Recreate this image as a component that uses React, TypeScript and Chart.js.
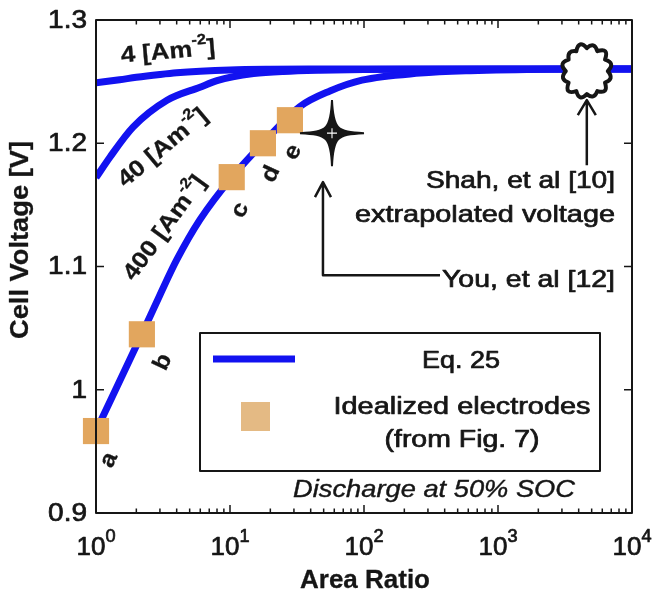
import React, { useEffect, useRef } from 'react';
import { Chart, registerables } from 'chart.js';

Chart.register(...registerables);

// ---- data ----
const areaRatio4 = [1, 1.5, 2, 3, 4, 6, 10, 20, 50, 100, 1000, 10000];
const voltage4 = [1.249, 1.2515, 1.2535, 1.2558, 1.2572, 1.2585, 1.2595, 1.26, 1.2602, 1.2603, 1.2603, 1.2603];

const areaRatio40 = [1, 1.27, 1.89, 3.39, 5.97, 8, 10.5, 15, 25, 47, 100, 262, 1000, 10000];
const voltage40 = [1.1721, 1.1887, 1.2131, 1.2349, 1.2455, 1.2508, 1.254, 1.2565, 1.2582, 1.2592, 1.2598, 1.2601, 1.2603, 1.2603];

const areaRatio400 = [1, 2.2, 3.0, 4.0, 5.97, 10.35, 17.6, 33.3, 55.7, 96.6, 262, 620, 2450, 10000];
const voltage400 = [0.9665, 1.0452, 1.0769, 1.1053, 1.138, 1.1725, 1.2001, 1.2298, 1.2424, 1.2512, 1.2569, 1.2589, 1.2601, 1.2603];

const electrodeLabels = ['a', 'b', 'c', 'd', 'e'];
const electrodeRatio = [1, 2.2, 10.3, 17.6, 28];
const electrodeVoltage = [0.9665, 1.045, 1.1725, 1.2, 1.2187];

const xTickValues = [1, 10, 100, 1000, 10000];
const xTickExponents = ['0', '1', '2', '3', '4'];
const yTickValues = [0.9, 1.0, 1.1, 1.2, 1.3];
const yTickLabels = ['0.9', '1', '1.1', '1.2', '1.3'];

// annotation anchors (data coordinates)
const shahPoint = { x: 4600, y: 1.2585 };
const shahArrowBase = 1.1822;
const youPoint = { x: 57.7, y: 1.2082 };
const youArrow = { x: 49.4, tipY: 1.1685, cornerY: 1.093, endX: 369 };
// label anchors (data coordinates)
const electrodeLabelPos = [
  { x: 1.25, y: 0.943 },
  { x: 3.16, y: 1.0225 },
  { x: 11.9, y: 1.1457 },
  { x: 20.2, y: 1.175 },
  { x: 29.5, y: 1.1928 },
];
const curveLabelPos = [
  { x: 3.45, y: 1.2739, text: '4', rot: -5 },
  { x: 3.16, y: 1.196, text: '40', rot: -40 },
  { x: 3.27, y: 1.1311, text: '400', rot: -54 },
];

const BLUE = 'rgb(18,18,240)';
const SQUARE = 'rgb(226,166,94)';
const SQUARE_LEGEND = 'rgb(228,186,132)';
const INK = '#161616';
const FONT = '"Liberation Sans", Arial, Helvetica, sans-serif';

type Part = { t: string; sup?: boolean };
type TextOpt = {
  size: number;
  bold?: boolean;
  italic?: boolean;
  align?: 'left' | 'center' | 'right';
  rot?: number;
  sx?: number;
  width?: number;
  baseline?: CanvasTextBaseline;
  supScale?: number;
  supRaise?: number;
  weight?: number;
};

function fontOf(size: number, bold?: boolean, italic?: boolean) {
  return `${italic ? 'italic ' : ''}${bold ? 'bold ' : ''}${size}px ${FONT}`;
}

function drawParts(ctx: CanvasRenderingContext2D, parts: Part[], x: number, y: number, o: TextOpt) {
  const supSize = o.size * (o.supScale ?? 0.64);
  const widths = parts.map((p) => {
    ctx.font = fontOf(p.sup ? supSize : o.size, o.bold, o.italic);
    return ctx.measureText(p.t).width;
  });
  const total = widths.reduce((s, w) => s + w, 0);
  const sx = o.width ? o.width / total : o.sx ?? 1.17;
  ctx.save();
  ctx.translate(x, y);
  if (o.rot) ctx.rotate((o.rot * Math.PI) / 180);
  ctx.scale(sx, 1);
  ctx.textBaseline = o.baseline ?? 'alphabetic';
  ctx.textAlign = 'left';
  ctx.fillStyle = INK;
  ctx.strokeStyle = INK;
  ctx.lineJoin = 'round';
  const w = o.weight ?? (o.bold ? 0.3 : 0.7);
  ctx.lineWidth = w;
  let cx = o.align === 'center' ? -total / 2 : o.align === 'right' ? -total : 0;
  parts.forEach((p, i) => {
    ctx.font = fontOf(p.sup ? supSize : o.size, o.bold, o.italic);
    const yy = p.sup ? -o.size * (o.supRaise ?? 0.45) : 0;
    ctx.fillText(p.t, cx, yy);
    if (w > 0) ctx.strokeText(p.t, cx, yy);
    cx += widths[i];
  });
  ctx.restore();
}

const overlay = {
  id: 'overlay',
  afterDatasetsDraw(chart: any) {
    const ctx: CanvasRenderingContext2D = chart.ctx;
    const a = chart.chartArea;
    const xs = chart.scales.x;
    const ys = chart.scales.y;
    const X = (v: number) => xs.getPixelForValue(v);
    const Y = (v: number) => ys.getPixelForValue(v);
    ctx.save();

    // cloud (Shah et al.)
    {
      const cx = X(shahPoint.x);
      const cy = Y(shahPoint.y);
      const rx = 21, ry = 23, n = 12;
      const bump = [8, 10, 7, 9, 11, 8, 9, 7, 10, 8, 11, 9];
      ctx.beginPath();
      for (let i = 0; i < n; i++) {
        const a0 = (i / n) * Math.PI * 2;
        const a1 = ((i + 1) / n) * Math.PI * 2;
        const am = (a0 + a1) / 2;
        const p0x = cx + rx * Math.cos(a0), p0y = cy + ry * Math.sin(a0);
        const p1x = cx + rx * Math.cos(a1), p1y = cy + ry * Math.sin(a1);
        const b = bump[i];
        const qx = cx + (rx + b) * Math.cos(am), qy = cy + (ry + b) * Math.sin(am);
        if (i === 0) ctx.moveTo(p0x, p0y);
        ctx.quadraticCurveTo(qx, qy, p1x, p1y);
      }
      ctx.closePath();
      ctx.fillStyle = '#fff';
      ctx.fill();
      ctx.lineWidth = 4;
      ctx.strokeStyle = INK;
      ctx.lineJoin = 'round';
      ctx.stroke();

      // arrow from text up to cloud
      const tipY = cy + ry + 6;
      ctx.lineWidth = 2.5;
      ctx.beginPath();
      ctx.moveTo(cx, Y(shahArrowBase));
      ctx.lineTo(cx, tipY);
      ctx.moveTo(cx - 9, tipY + 15);
      ctx.lineTo(cx, tipY);
      ctx.lineTo(cx + 9, tipY + 15);
      ctx.stroke();
    }

    // star (You et al.)
    {
      const cx = X(youPoint.x);
      const cy = Y(youPoint.y);
      const n = 1.2, f = 4.5;
      ctx.beginPath();
      ctx.moveTo(cx, cy - 33);
      ctx.bezierCurveTo(cx + n, cy - f, cx + f, cy - n, cx + 32, cy);
      ctx.bezierCurveTo(cx + f, cy + n, cx + n, cy + f, cx, cy + 33);
      ctx.bezierCurveTo(cx - n, cy + f, cx - f, cy + n, cx - 32, cy);
      ctx.bezierCurveTo(cx - f, cy - n, cx - n, cy - f, cx, cy - 33);
      ctx.closePath();
      ctx.fillStyle = INK;
      ctx.fill();
      ctx.strokeStyle = INK;
      ctx.lineWidth = 2;
      ctx.lineJoin = 'miter';
      ctx.stroke();
      ctx.strokeStyle = '#fff';
      ctx.lineWidth = 1.1;
      ctx.beginPath();
      ctx.moveTo(cx - 5, cy);
      ctx.lineTo(cx + 5, cy);
      ctx.moveTo(cx, cy - 5);
      ctx.lineTo(cx, cy + 5);
      ctx.stroke();

      const ax = X(youArrow.x);
      const tip = Y(youArrow.tipY);
      const corner = Y(youArrow.cornerY);
      ctx.strokeStyle = INK;
      ctx.lineWidth = 2.5;
      ctx.lineJoin = 'round';
      ctx.beginPath();
      ctx.moveTo(X(youArrow.endX), corner);
      ctx.lineTo(ax, corner);
      ctx.lineTo(ax, tip);
      ctx.moveTo(ax - 8, tip + 15);
      ctx.lineTo(ax, tip);
      ctx.lineTo(ax + 8, tip + 15);
      ctx.stroke();
    }

    // annotation texts
    drawParts(ctx, [{ t: 'Shah, et al [10]' }], 615, 188, { size: 24, align: 'right', width: 189 });
    drawParts(ctx, [{ t: 'extrapolated voltage' }], 615, 222, { size: 24, align: 'right', width: 260 });
    drawParts(ctx, [{ t: 'You, et al [12]' }], 615, 287, { size: 24, align: 'right', width: 173 });

    // curve labels
    curveLabelPos.forEach((l) => {
      drawParts(
        ctx,
        [{ t: `${l.text} [Am` }, { t: '-2', sup: true }, { t: ']' }],
        X(l.x),
        Y(l.y),
        { size: 23, bold: true, align: 'center', rot: l.rot, baseline: 'middle', sx: 1.12, supRaise: 0.4 }
      );
    });
    electrodeLabels.forEach((t, i) => {
      drawParts(ctx, [{ t }], X(electrodeLabelPos[i].x), Y(electrodeLabelPos[i].y), {
        size: 23, bold: true, align: 'center', rot: -65, baseline: 'middle', sx: 1.1,
      });
    });

    // legend box
    ctx.fillStyle = '#fff';
    ctx.fillRect(200, 333, 400, 138);
    ctx.strokeStyle = INK;
    ctx.lineWidth = 2;
    ctx.strokeRect(200, 333, 400, 138);
    ctx.strokeStyle = BLUE;
    ctx.lineWidth = 7;
    ctx.lineCap = 'butt';
    ctx.beginPath();
    ctx.moveTo(213, 359);
    ctx.lineTo(295, 359);
    ctx.stroke();
    ctx.fillStyle = SQUARE_LEGEND;
    ctx.fillRect(241, 402, 29, 29);
    drawParts(ctx, [{ t: 'Eq. 25' }], 461, 368, { size: 23, align: 'center', width: 78 });
    drawParts(ctx, [{ t: 'Idealized electrodes' }], 462, 414, { size: 23, align: 'center', width: 257 });
    drawParts(ctx, [{ t: '(from Fig. 7)' }], 462, 447, { size: 23, align: 'center', width: 155 });
    drawParts(ctx, [{ t: 'Discharge at 50% SOC' }], 293, 497, { size: 23, italic: true, align: 'left', width: 282, weight: 0.4 });

    // frame
    ctx.strokeStyle = INK;
    ctx.lineWidth = 2;
    ctx.strokeRect(a.left, a.top, a.right - a.left, a.bottom - a.top);

    // ticks
    ctx.lineWidth = 1.5;
    ctx.beginPath();
    for (let d = 0; d < xTickValues.length; d++) {
      const v = xTickValues[d];
      const px = X(v);
      ctx.moveTo(px, a.bottom);
      ctx.lineTo(px, a.bottom - 8);
      ctx.moveTo(px, a.top);
      ctx.lineTo(px, a.top + 8);
      if (d < xTickValues.length - 1) {
        for (let m = 2; m <= 9; m++) {
          const mx = X(v * m);
          ctx.moveTo(mx, a.bottom);
          ctx.lineTo(mx, a.bottom - 4.5);
          ctx.moveTo(mx, a.top);
          ctx.lineTo(mx, a.top + 4.5);
        }
      }
    }
    yTickValues.forEach((v) => {
      const py = Y(v);
      ctx.moveTo(a.left, py);
      ctx.lineTo(a.left + 8, py);
      ctx.moveTo(a.right, py);
      ctx.lineTo(a.right - 8, py);
    });
    ctx.stroke();

    // tick labels
    yTickValues.forEach((v, i) => {
      drawParts(ctx, [{ t: yTickLabels[i] }], a.left - 9, Y(v) + 1, { size: 25, align: 'right', baseline: 'middle', sx: 1.12 });
    });
    xTickValues.forEach((v, i) => {
      drawParts(ctx, [{ t: '10' }, { t: xTickExponents[i], sup: true }], X(v), 555, {
        size: 26, align: 'center', sx: 1.0, supScale: 0.7, supRaise: 0.5,
      });
    });

    // axis titles
    drawParts(ctx, [{ t: 'Area Ratio' }], (a.left + a.right) / 2 + 1, 588, { size: 25, bold: true, align: 'center', width: 130 });
    drawParts(ctx, [{ t: 'Cell Voltage [V]' }], 21, 240, { size: 25, bold: true, align: 'center', rot: -90, baseline: 'middle', width: 198 });

    ctx.restore();
  },
};

export default function App() {
  const ref = useRef<HTMLCanvasElement>(null);
  useEffect(() => {
    const toPts = (xs: number[], ys: number[]) => xs.map((x, i) => ({ x, y: ys[i] }));
    const line = (label: string, xs: number[], ys: number[]) => ({
      type: 'line' as const,
      label,
      data: toPts(xs, ys),
      borderColor: BLUE,
      backgroundColor: BLUE,
      borderWidth: 7,
      pointRadius: 0,
      cubicInterpolationMode: 'monotone' as const,
      fill: false,
      order: 1,
    });
    const chart = new Chart(ref.current!, {
      type: 'line',
      data: {
        datasets: [
          {
            type: 'scatter',
            label: 'Idealized electrodes',
            data: toPts(electrodeRatio, electrodeVoltage),
            pointStyle: 'rect',
            pointRadius: 18.5,
            pointHoverRadius: 18.5,
            backgroundColor: SQUARE,
            borderWidth: 0,
            pointBorderWidth: 0,
            clip: false,
            order: 0,
          } as any,
          line('4 [Am-2]', areaRatio4, voltage4),
          line('40 [Am-2]', areaRatio40, voltage40),
          line('400 [Am-2]', areaRatio400, voltage400),
        ],
      },
      options: {
        animation: false,
        responsive: false,
        devicePixelRatio: 1,
        events: [],
        layout: { padding: { left: 96, right: 20, top: 20, bottom: 83 } },
        plugins: { legend: { display: false }, tooltip: { enabled: false } },
        scales: {
          x: { type: 'logarithmic', min: 1, max: 10000, display: false },
          y: { type: 'linear', min: 0.9, max: 1.3, display: false },
        },
      },
      plugins: [overlay],
    });
    return () => chart.destroy();
  }, []);
  return (
    <div style={{ position: 'absolute', left: 0, top: 0, width: 652, height: 596, background: '#fff' }}>
      <canvas ref={ref} width={652} height={596} style={{ display: 'block' }} />
    </div>
  );
}
